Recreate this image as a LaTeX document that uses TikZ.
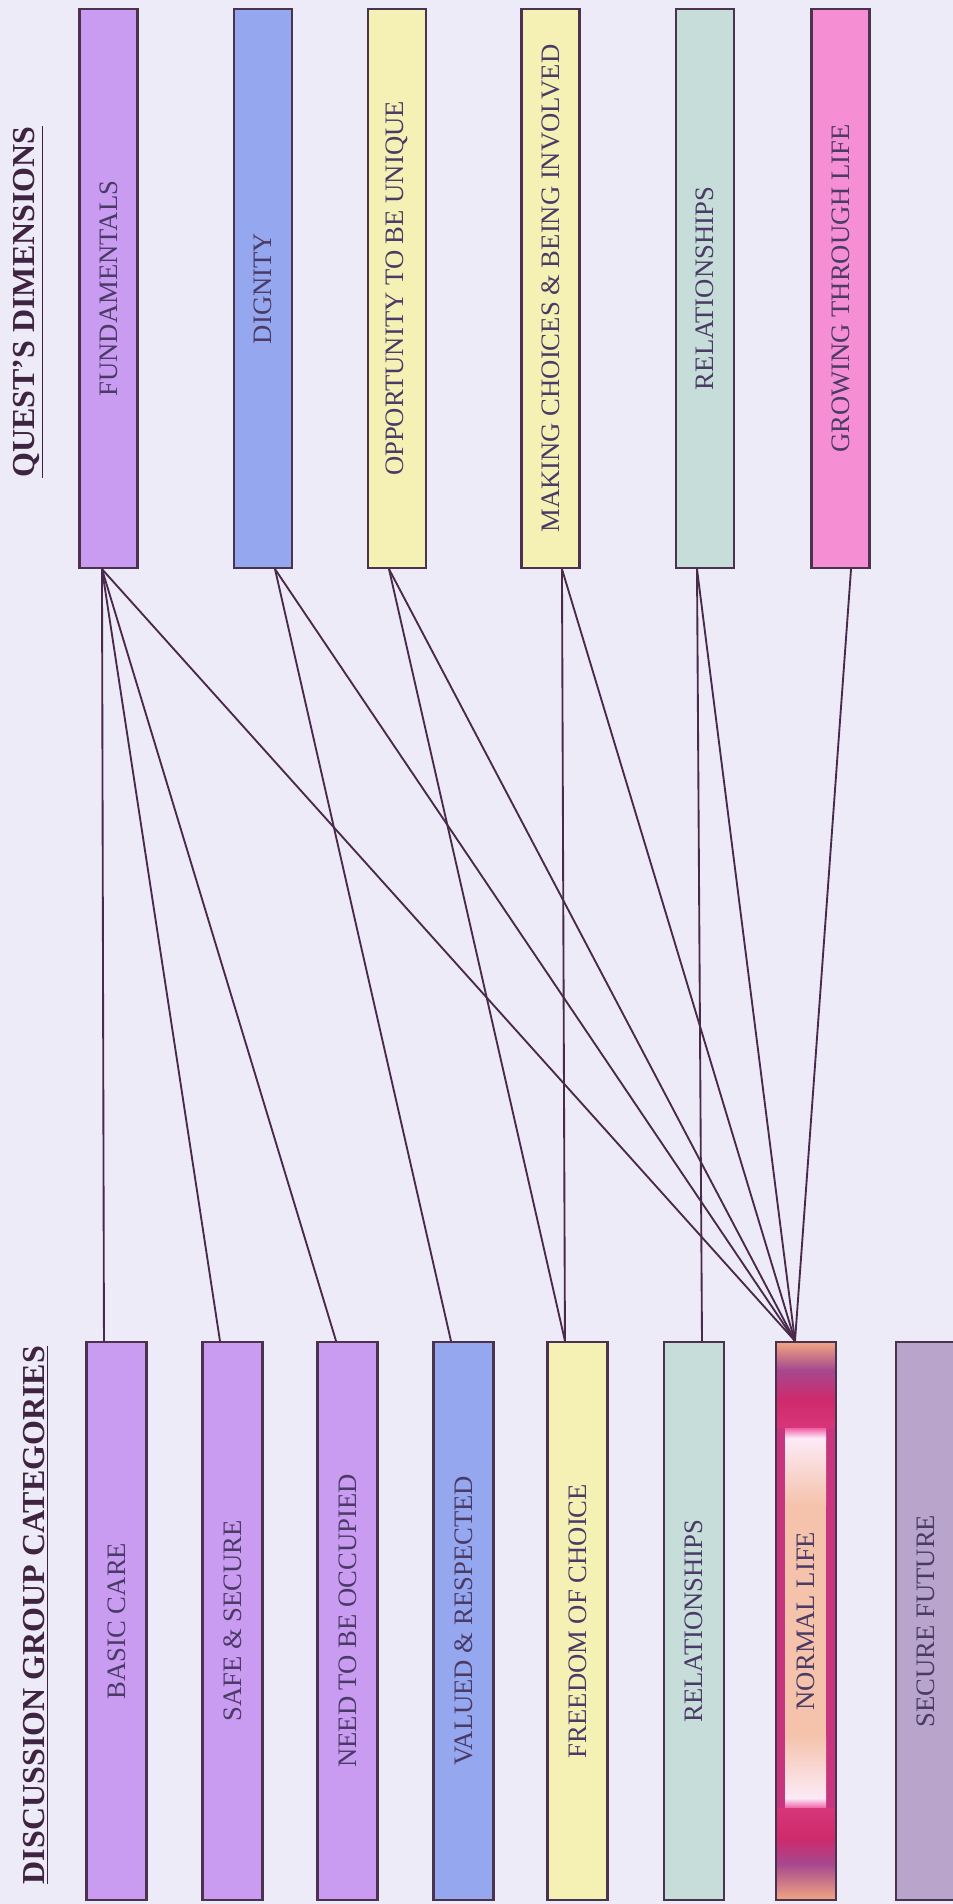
\documentclass[tikz,border=0pt]{standalone}
\usepackage{fontspec}
\setmainfont{Liberation Serif}
\usepackage{graphicx}
\definecolor{bgcol}{HTML}{EEEBF8}
\definecolor{edgecol}{HTML}{4B3350}
\definecolor{linecol}{HTML}{4A2A4A}
\definecolor{txtcol}{HTML}{4A3A66}
\definecolor{titlecol}{HTML}{3E2440}
\definecolor{purp}{HTML}{C99CF2}
\definecolor{blu}{HTML}{95A7EF}
\definecolor{yell}{HTML}{F5F1B5}
\definecolor{teal}{HTML}{C6DDD9}
\definecolor{pnk}{HTML}{F68ED3}
\definecolor{sfut}{HTML}{B9A5CB}
\definecolor{nlsalmon}{HTML}{F2A682}
\definecolor{nlpurple}{HTML}{A6488E}
\definecolor{nlcrimson}{HTML}{CE2A6C}
\definecolor{nlhot}{HTML}{D8367A}
\definecolor{nlside}{HTML}{C8357F}
\definecolor{nledge}{HTML}{F060A8}
\definecolor{nlwhite}{HTML}{FCEAF6}
\definecolor{nlpeach}{HTML}{F5C3AC}
\begin{document}
\begin{tikzpicture}[x=0.75pt,y=-0.75pt,
  box/.style={draw=edgecol, line width=1.6pt, inner sep=0pt, text=txtcol,
    font=\fontsize{20}{24}\selectfont},
  topbox/.style={box, minimum width=43.5pt, minimum height=419.25pt},
  botbox/.style={box, minimum width=45pt, minimum height=418.5pt},
  link/.style={draw=linecol, line width=1.4pt, line cap=round},
  titletext/.style={rotate=90, anchor=base, inner sep=0pt, text=titlecol,
    font=\bfseries\fontsize{24}{28}\selectfont}]
\useasboundingbox (0,0) rectangle (953,1904);
\fill[bgcol] (0,0) rectangle (953,1904);

% titles
\node[titletext] (qtitle) at (35,302) {\underline{QUEST’S DIMENSIONS}};
\node[titletext] (dtitle) at (45,1615) {\underline{DISCUSSION GROUP CATEGORIES}};

% top boxes
\node[topbox, fill=purp] (fund) at (108.5,288.5) {\rotatebox{90}{FUNDAMENTALS}};
\node[topbox, fill=blu]  (dign) at (263,288.5) {\rotatebox{90}{DIGNITY}};
\node[topbox, fill=yell] (oppo) at (397,288.5) {\rotatebox{90}{OPPORTUNITY TO BE UNIQUE}};
\node[topbox, fill=yell] (make) at (550.5,288.5) {\rotatebox{90}{MAKING CHOICES \& BEING INVOLVED}};
\node[topbox, fill=teal] (relq) at (705,288.5) {\rotatebox{90}{RELATIONSHIPS}};
\node[topbox, fill=pnk]  (grow) at (840.5,288.5) {\rotatebox{90}{GROWING THROUGH LIFE}};

% normal life shading
\shade[top color=nlsalmon, bottom color=nlpurple] (776,1342) rectangle (836,1370);
\shade[top color=nlpurple, bottom color=nlcrimson] (776,1370) rectangle (836,1400);
\shade[top color=nlcrimson, bottom color=nlhot] (776,1400) rectangle (836,1428);
\fill[nlside] (776,1428) rectangle (836,1810);
\shade[top color=nledge, bottom color=nlwhite] (785,1428) rectangle (826,1438);
\shade[top color=nlwhite, bottom color=nlpeach] (785,1438) rectangle (826,1505);
\fill[nlpeach] (785,1505) rectangle (826,1735);
\shade[top color=nlpeach, bottom color=nlwhite] (785,1735) rectangle (826,1798);
\shade[top color=nlwhite, bottom color=nledge] (785,1798) rectangle (826,1808);
\shade[top color=nlhot, bottom color=nlcrimson] (776,1808) rectangle (836,1838);
\shade[top color=nlcrimson, bottom color=nlpurple] (776,1838) rectangle (836,1864);
\shade[top color=nlpurple, bottom color=nlsalmon] (776,1864) rectangle (836,1900);

% bottom boxes
\node[botbox, fill=purp] (basic) at (116.5,1621) {\rotatebox{90}{BASIC CARE}};
\node[botbox, fill=purp] (safe)  at (232.5,1621) {\rotatebox{90}{SAFE \& SECURE}};
\node[botbox, fill=purp] (need)  at (347.5,1621) {\rotatebox{90}{NEED TO BE OCCUPIED}};
\node[botbox, fill=blu]  (valu)  at (463.5,1621) {\rotatebox{90}{VALUED \& RESPECTED}};
\node[botbox, fill=yell] (free)  at (577.5,1621) {\rotatebox{90}{FREEDOM OF CHOICE}};
\node[botbox, fill=teal] (reld)  at (694,1621) {\rotatebox{90}{RELATIONSHIPS}};
\node[botbox]            (norm)  at (806,1621) {\rotatebox{90}{NORMAL LIFE}};
\node[botbox, fill=sfut] (secf)  at (926,1621) {\rotatebox{90}{SECURE FUTURE}};

% connectors
\draw[link] ([xshift=-4.9pt]fund.south) -- ([xshift=-9.4pt]basic.north);
\draw[link] ([xshift=-4.9pt]fund.south) -- ([xshift=-9.4pt]safe.north);
\draw[link] ([xshift=-4.9pt]fund.south) -- ([xshift=-8.6pt]need.north);
\draw[link] ([xshift=-4.9pt]fund.south) -- ([xshift=-8.25pt]norm.north);
\draw[link] ([xshift=9pt]dign.south) -- ([xshift=-9.4pt]valu.north);
\draw[link] ([xshift=9pt]dign.south) -- ([xshift=-8.25pt]norm.north);
\draw[link] ([xshift=-6pt]oppo.south) -- ([xshift=-9.4pt]free.north);
\draw[link] ([xshift=-6pt]oppo.south) -- ([xshift=-8.25pt]norm.north);
\draw[link] ([xshift=8.6pt]make.south) -- ([xshift=-9.4pt]free.north);
\draw[link] ([xshift=8.6pt]make.south) -- ([xshift=-8.25pt]norm.north);
\draw[link] ([xshift=-6pt]relq.south) -- ([xshift=6pt]reld.north);
\draw[link] ([xshift=-6pt]relq.south) -- ([xshift=-8.25pt]norm.north);
\draw[link] ([xshift=7.9pt]grow.south) -- ([xshift=-8.25pt]norm.north);
\end{tikzpicture}
\end{document}
